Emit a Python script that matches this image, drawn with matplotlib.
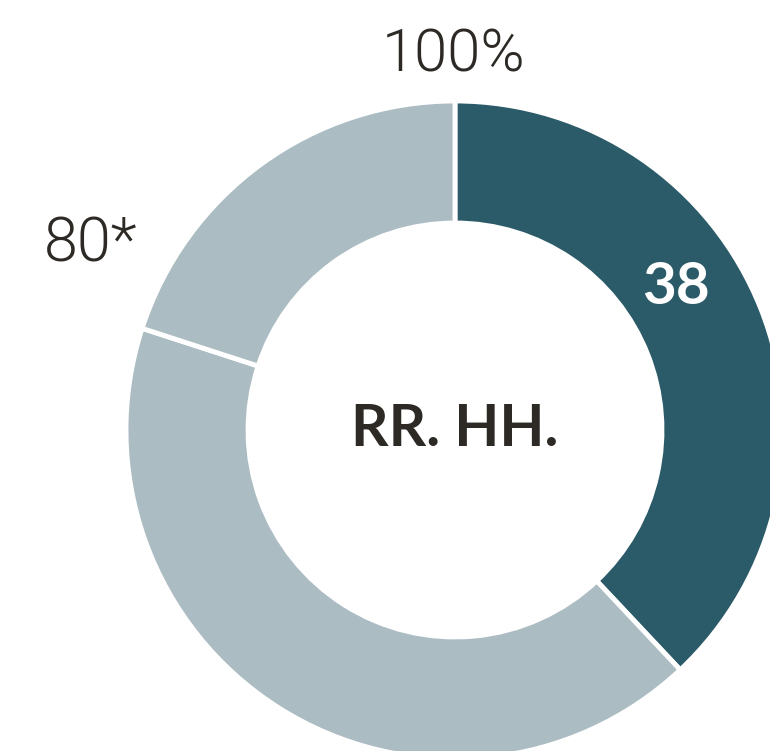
import matplotlib
matplotlib.use("Agg")
import matplotlib.pyplot as plt

segments = ["RR. HH.", "Resto hasta 80", "Resto hasta 100"]
values = [38, 42, 20]
colors = ["#2b5a68", "#abbcc3", "#abbcc3"]
value_label = "38"
top_label = "100%"
mark_label = "80*"
center_label = "RR. HH."

W, H = 770, 751
fig = plt.figure(figsize=(W / 100, H / 100), dpi=100)
ax = fig.add_axes([0, 0, 1, 1])

cx, cy = 455, H - 430
R_out, R_in = 329, 207
ax.pie(values, colors=colors, startangle=90, counterclock=False,
       radius=R_out, center=(cx, cy), frame=True,
       wedgeprops=dict(width=R_out - R_in, edgecolor="white", linewidth=3.5))
ax.set_xlim(0, W)
ax.set_ylim(0, H)
ax.set_aspect("equal")
ax.axis("off")

txt = "#2d2a26"
ax.text(cx, cy, center_label, ha="center", va="center", fontsize=42,
        fontweight="bold", color=txt, family=["Lato", "DejaVu Sans"])
ax.text(676, H - 287, value_label, ha="center", va="center", fontsize=42,
        fontweight="bold", color="white", family=["Lato", "DejaVu Sans"])
ax.text(454, H - 55, top_label, ha="center", va="center", fontsize=43,
        fontweight=300, color=txt, family=["Roboto", "DejaVu Sans"])
ax.text(91, H - 244, mark_label, ha="center", va="center", fontsize=44,
        fontweight=300, color=txt, family=["Roboto", "DejaVu Sans"])

fig.savefig("out.png", dpi=100)
